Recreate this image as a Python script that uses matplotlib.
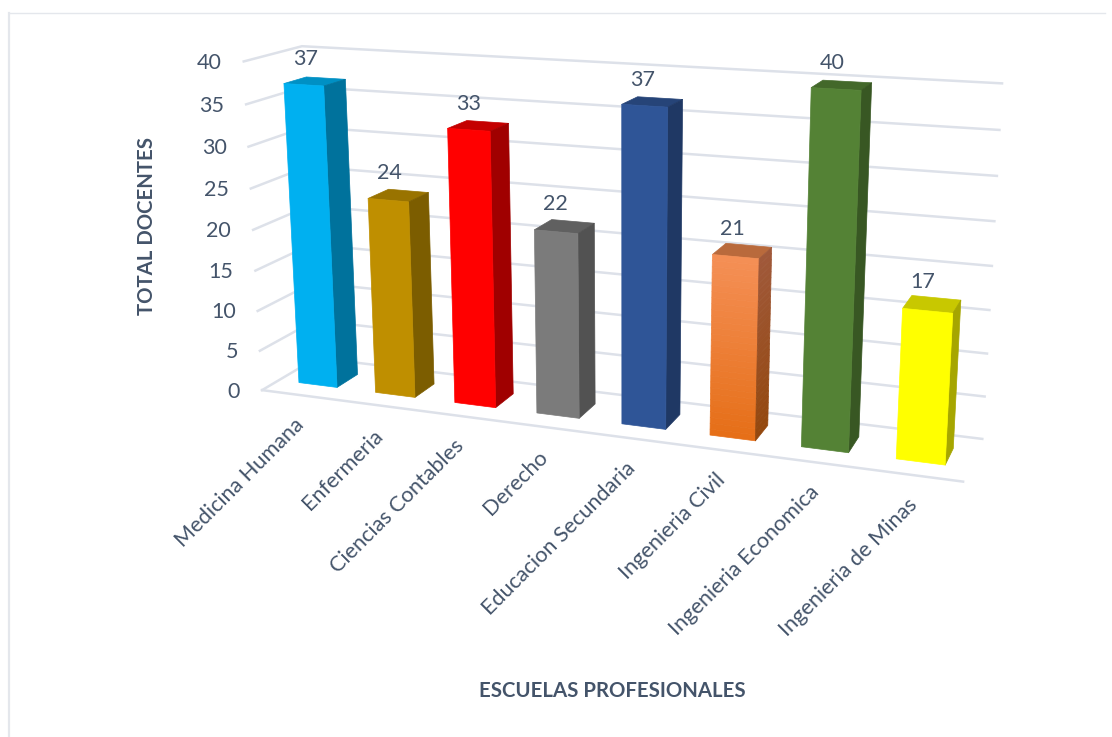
import numpy as np
import matplotlib
matplotlib.use('Agg')
import matplotlib.pyplot as plt
from matplotlib.colors import to_rgb
from matplotlib.lines import Line2D
from mpl_toolkits.mplot3d import proj3d
from mpl_toolkits.mplot3d.art3d import Poly3DCollection

plt.rcParams['font.family'] = ['Lato', 'DejaVu Sans']

schools = ['Medicina Humana', 'Enfermeria', 'Ciencias Contables', 'Derecho',
           'Educacion Secundaria', 'Ingenieria Civil', 'Ingenieria Economica',
           'Ingenieria de Minas']
docentes = [37, 24, 33, 22, 37, 21, 40, 17]
yticks = [0, 5, 10, 15, 20, 25, 30, 35, 40]

front_colors = ['#00B0F0', '#BF8F00', '#FF0000', '#7B7B7B', '#2F5597', '#F48F55', '#548235', '#FFFF00']
side_colors = ['#00729C', '#7C5D00', '#A00000', '#525252', '#1F3864', '#A0593A', '#385723', '#A6A600']
top_colors = ['#0090C4', '#997300', '#C40000', '#606060', '#264478', '#B96A3C', '#43682A', '#C8C800']
orange_front_low = '#E66F18'
orange_side_low = '#94480F'

TEXT = '#44546A'
GRID = '#DDE1E9'
W, H = 1112, 737

# camera settings for the perspective view
K = 1733.165
CX, CY = 607.04, 247.12
GAP, Y0, Y1 = 0.2492, 0.3115, 0.7045

fig = plt.figure(figsize=(W / 100, H / 100), dpi=100, facecolor='white')
ax = fig.add_axes([0, 0, H / W, 1], projection='3d')
ax.set_xlim(0, 8, view_margin=0)
ax.set_ylim(0, 1, view_margin=0)
ax.set_zlim(0, 40, view_margin=0)
ax.set_proj_type('persp', focal_length=1)
ax.view_init(elev=14.6441, azim=-69.5819, roll=0.1506)
ax.set_box_aspect((1, 0.1568, 0.4746), zoom=2.5163)
ax.set_axis_off()
ax.patch.set_visible(False)
ax.computed_zorder = False

# work out where the projected origin sits so the axes box can be placed from it
fig.canvas.draw()
o = ax.transData.transform((0, 0)) / H
e = ax.transData.transform((1, 1)) / H
side = K / (e - o)[0]
ax.set_position([(CX - side * o[0]) / W, (H - CY - side * o[1]) / H, side / W, side / H])


def add_face(verts, color, zorder):
    ax.add_collection3d(Poly3DCollection([verts], facecolors=[color], edgecolors=[color],
                                         lw=0.5, zorder=zorder, clip_on=False))


def mix(c0, c1, f):
    c0, c1 = np.array(to_rgb(c0)), np.array(to_rgb(c1))
    return c0 + (c1 - c0) * f


# wall gridlines and the front edge of the floor
for t in yticks:
    ax.plot([0, 0, 8], [0, 1, 1], [t, t, t], color=GRID, lw=1.8, zorder=1, clip_on=False)
ax.plot([0, 8], [0, 0], [0, 0], color=GRID, lw=1.8, zorder=1, clip_on=False)

for i, v in enumerate(docentes):
    a, b = i + GAP, i + 1 - GAP
    add_face([(a, Y0, v), (b, Y0, v), (b, Y1, v), (a, Y1, v)], top_colors[i], 2 + i)
    if i == 5:
        # this bar fades downwards on its front and side
        n = 30
        for j in range(n):
            z0, z1 = v * (1 - j / n), v * (1 - (j + 1) / n)
            f = j / (n - 1)
            add_face([(a, Y0, z1), (b, Y0, z1), (b, Y0, z0), (a, Y0, z0)],
                     mix(front_colors[i], orange_front_low, f), 2 + i)
            add_face([(b, Y0, z1), (b, Y1, z1), (b, Y1, z0), (b, Y0, z0)],
                     mix(side_colors[i], orange_side_low, f), 2 + i)
    else:
        add_face([(b, Y0, 0), (b, Y1, 0), (b, Y1, v), (b, Y0, v)], side_colors[i], 2 + i)
        add_face([(a, Y0, 0), (b, Y0, 0), (b, Y0, v), (a, Y0, v)], front_colors[i], 2 + i)

M = ax.get_proj()


def to2d(x, y, z):
    px, py, _ = proj3d.proj_transform(x, y, z, M)
    return px, py


px2pt = 0.72
for i, v in enumerate(docentes):
    ax.annotate(str(v), to2d(i + 0.5, (Y0 + Y1) / 2, v), xytext=(-9 * px2pt, 21.5 * px2pt),
                textcoords='offset points', ha='center', va='center', fontsize=15.5, color=TEXT,
                annotation_clip=False)

for t in yticks:
    ax.annotate(str(t), to2d(0, 0, t), xytext=(-22 * px2pt, -1.5 * px2pt), textcoords='offset points',
                ha='right', va='center', fontsize=15.5, color=TEXT, annotation_clip=False)

for i, name in enumerate(schools):
    ax.annotate(name, to2d(i + 0.5, 0, 0), xytext=(1 * px2pt, -27 * px2pt), textcoords='offset points',
                ha='right', va='center', rotation=45, rotation_mode='anchor', fontsize=15.6, color=TEXT,
                annotation_clip=False)

fig.text(147 / W, 1 - 226 / H, 'TOTAL DOCENTES', rotation=90, ha='center', va='center',
         fontsize=14.7, fontweight='bold', color=TEXT)
fig.text(612 / W, 1 - 691 / H, 'ESCUELAS PROFESIONALES', ha='center', va='center',
         fontsize=14.7, fontweight='bold', color=TEXT)

# thin chart border, top and left only
fig.add_artist(Line2D([8.5 / W, 1 - 7 / W], [1 - 12.5 / H, 1 - 12.5 / H], color='#E4E7EC', lw=1.0))
fig.add_artist(Line2D([9 / W, 9 / W], [0, 1 - 12.5 / H], color='#E4E7EC', lw=1.6))

fig.savefig('out.png', dpi=100)
